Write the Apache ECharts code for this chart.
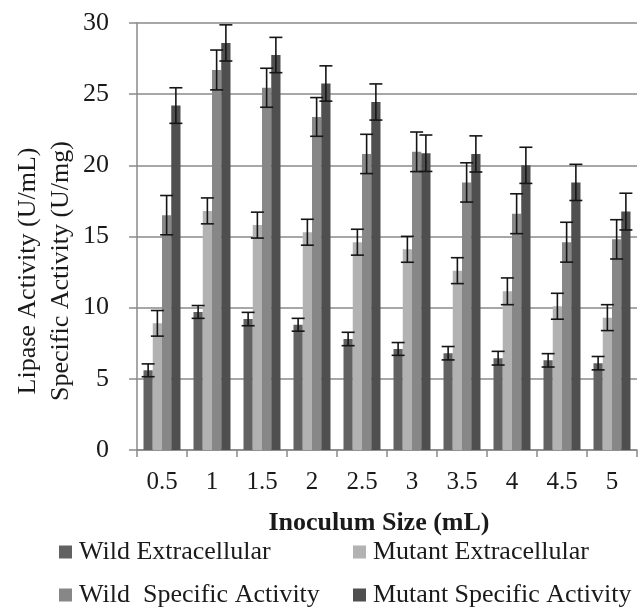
<!DOCTYPE html>
<html><head><meta charset="utf-8">
<script src="https://cdn.jsdelivr.net/npm/echarts@6/dist/echarts.min.js"></script>
<style>html,body{margin:0;padding:0;background:#fff}#c{width:639px;height:607px}</style>
</head><body><div id="c"></div>
<script>
var categories = ['0.5','1','1.5','2','2.5','3','3.5','4','4.5','5'];
var seriesNames = ['Wild Extracellular','Mutant Extracellular','Wild  Specific Activity','Mutant Specific Activity'];
var wildExtra = [5.6, 9.7, 9.2, 8.8, 7.8, 7.1, 6.8, 6.45, 6.3, 6.1];
var mutantExtra = [8.9, 16.8, 15.8, 15.3, 14.6, 14.1, 12.6, 11.15, 10.1, 9.3];
var wildSpec = [16.5, 26.7, 25.45, 23.4, 20.8, 20.95, 18.8, 16.6, 14.6, 14.8];
var mutantSpec = [24.2, 28.6, 27.75, 25.75, 24.45, 20.85, 20.8, 20.0, 18.8, 16.75];
var wildExtraErr = [0.45, 0.45, 0.47, 0.45, 0.47, 0.45, 0.47, 0.48, 0.47, 0.47];
var mutantExtraErr = [0.9, 0.91, 0.91, 0.91, 0.91, 0.91, 0.91, 0.94, 0.91, 0.91];
var wildSpecErr = [1.38, 1.4, 1.37, 1.36, 1.38, 1.39, 1.38, 1.4, 1.4, 1.38];
var mutantSpecErr = [1.25, 1.27, 1.24, 1.24, 1.27, 1.28, 1.27, 1.27, 1.27, 1.29];
var yTicks = [0, 5, 10, 15, 20, 25, 30];
var xTitle = 'Inoculum Size (mL)';
var yTitle = 'Lipase Activity (U/mL)\nSpecific Activity (U/mg)';

var colors = ['#626262', '#b2b2b2', '#878787', '#4f4f4f'];
var values = [wildExtra, mutantExtra, wildSpec, mutantSpec];
var errs = [wildExtraErr, mutantExtraErr, wildSpecErr, mutantSpecErr];
var catGap = 0.26;
var FONT = 'Liberation Serif';
var TXT = '#1a1a1a';

var series = [];
values.forEach(function (v, i) {
  series.push({
    name: seriesNames[i], type: 'bar', data: v,
    barCategoryGap: (catGap * 100) + '%', barGap: '0%',
    itemStyle: { color: colors[i] }, z: 2
  });
});
values.forEach(function (v, i) {
  var data = v.map(function (val, k) { return [k, val, errs[i][k]]; });
  series.push({
    type: 'custom', name: 'err' + i, z: 5, silent: true,
    data: data,
    renderItem: function (params, api) {
      var k = api.value(0), val = api.value(1), e = api.value(2);
      var band = api.size([1, 0])[0];
      var bw = band * (1 - catGap) / 4;
      var c = api.coord([k, val]);
      var x = c[0] + (i - 1.5) * bw;
      var yt = api.coord([k, val + e])[1];
      var yb = api.coord([k, val - e])[1];
      var cap = 6.5;
      var st = { stroke: '#151515', lineWidth: 1.6 };
      return { type: 'group', children: [
        { type: 'line', shape: { x1: x, y1: yt, x2: x, y2: yb }, style: st },
        { type: 'line', shape: { x1: x - cap, y1: yt, x2: x + cap, y2: yt }, style: st },
        { type: 'line', shape: { x1: x - cap, y1: yb, x2: x + cap, y2: yb }, style: st }
      ]};
    }
  });
});

function leg(name, left, top) {
  return { data: [name], left: left, top: top, itemWidth: 13, itemHeight: 13, itemGap: 0,
    icon: 'rect', padding: 0,
    textStyle: { fontFamily: FONT, fontSize: 26, color: TXT, padding: [0, 0, 0, 2] } };
}

var chart = echarts.init(document.getElementById('c'));
chart.setOption({
  animation: false,
  textStyle: { fontFamily: FONT },
  grid: { left: 137, right: 2, top: 23, bottom: 157, containLabel: false, outerBoundsMode: 'none' },
  legend: [
    leg(seriesNames[0], 59, 539),
    leg(seriesNames[1], 353, 539),
    leg(seriesNames[2], 59, 582),
    leg(seriesNames[3], 353, 582)
  ],
  graphic: [
    { type: 'text', x: 379, y: 523, style: { text: xTitle, font: 'bold 26px "Liberation Serif"', fill: TXT, align: 'center', verticalAlign: 'middle' } },
    { type: 'text', x: 45, y: 271, rotation: Math.PI / 2, style: { text: yTitle, font: '26px "Liberation Serif"', fill: TXT, align: 'center', verticalAlign: 'middle', lineHeight: 33 } }
  ],
  xAxis: {
    type: 'category', data: categories,
    axisLine: { lineStyle: { color: '#8a8a8a', width: 1.5 } },
    axisTick: { show: true, length: 7, lineStyle: { color: '#8a8a8a', width: 1.5 } },
    axisLabel: { fontFamily: FONT, fontSize: 25, color: TXT, margin: 20 }
  },
  yAxis: {
    type: 'value', min: yTicks[0], max: yTicks[yTicks.length - 1], interval: 5,
    axisLine: { show: true, lineStyle: { color: '#8a8a8a', width: 1.5 } },
    axisTick: { show: true, length: 8, lineStyle: { color: '#8a8a8a', width: 1.5 } },
    axisLabel: { fontFamily: FONT, fontSize: 26, color: TXT, margin: 28 },
    splitLine: { show: true, lineStyle: { color: '#8a8a8a', width: 1.5 } }
  },
  series: series
});
</script></body></html>
